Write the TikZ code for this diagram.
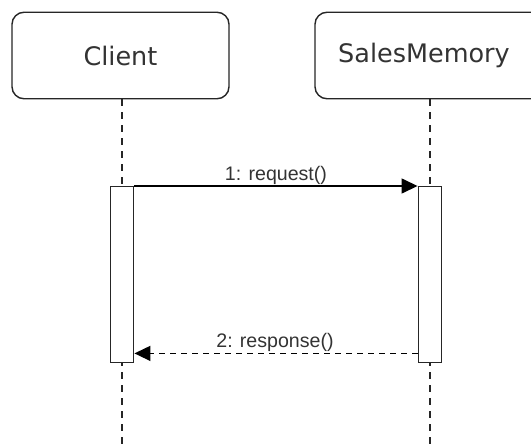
\documentclass[tikz,border=0pt]{standalone}
\usepackage{fontspec}
\newfontfamily\headfont{DejaVu Sans}
\newfontfamily\labfont{Liberation Sans}
\usetikzlibrary{arrows.meta}
\definecolor{txtgray}{HTML}{333333}
\begin{document}
\begin{tikzpicture}[x=1pt,y=-1pt,
  actorbox/.style={draw=black!85, line width=1.4pt, rounded corners=12pt, fill=white,
    minimum height=86.5pt, inner sep=0pt, text=txtgray,
    font=\headfont\fontsize{25.5}{30}\selectfont},
  lifeline/.style={draw=black!85, line width=1.4pt, dash pattern=on 7pt off 6pt},
  actbar/.style={draw=black!85, line width=1.4pt, fill=white, minimum width=23.5pt,
    minimum height=176pt, inner sep=0pt},
  msglabel/.style={text=txtgray, font=\labfont\fontsize{19.6}{22}\selectfont, inner sep=0pt, anchor=base},
  callarrow/.style={draw=black, line width=1.5pt, -{Triangle[length=16pt,width=15pt]}},
  retarrow/.style={draw=black, line width=1.5pt, dash pattern=on 6pt off 5pt, -{Triangle[length=16pt,width=15pt]}}
]
\useasboundingbox (0,0) rectangle (531,445);
\begin{scope}
\clip (0,0) rectangle (531,445);
% actors
\node[actorbox, minimum width=217pt] (client) at (120.5,55.5) {Client};
\node[actorbox, minimum width=230pt] (server) at (430,55.5) {SalesMemory\kern12pt};
% lifeline ends
\coordinate (cend) at (122,446);
\coordinate (send) at (430,446);
\draw[lifeline] (client.south -| cend) -- (cend);
\draw[lifeline] (server.south -| send) -- (send);
% activation bars
\node[actbar, anchor=north] (cbar) at (122,186) {};
\node[actbar, anchor=north] (sbar) at (430,186) {};
% messages
\draw[callarrow] (cbar.north east) -- (sbar.north west);
\node[msglabel] (l1) at (276,180) {1: request()};
\draw[retarrow] ([yshift=10pt]sbar.south west) -- ([yshift=10pt]cbar.south east);
\node[msglabel] (l2) at (275,347) {2: response()};
\end{scope}
\end{tikzpicture}
\end{document}
